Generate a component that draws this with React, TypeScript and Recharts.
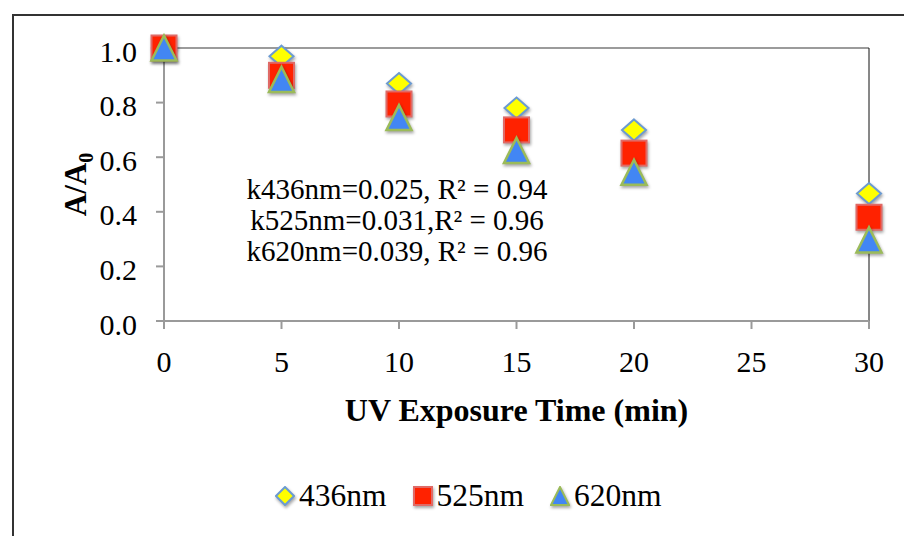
import { ReferenceLine, Scatter, ScatterChart, XAxis, YAxis } from "recharts";

const times = [0, 5, 10, 15, 20, 30];
const ratio436 = [1.0, 0.97, 0.87, 0.78, 0.7, 0.467];
const ratio525 = [1.0, 0.9, 0.795, 0.7, 0.615, 0.38];
const ratio620 = [1.0, 0.885, 0.745, 0.625, 0.545, 0.297];

const xTicks = [0, 5, 10, 15, 20, 25, 30];
const yTicks = [0, 0.2, 0.4, 0.6, 0.8, 1.0];

const fitLines = [
  "k436nm=0.025, R\u00b2 = 0.94",
  "k525nm=0.031,R\u00b2 = 0.96",
  "k620nm=0.039, R\u00b2 = 0.96",
];

const toPoints = (values: number[]) => times.map((t, i) => ({ t, v: values[i] }));

const FONT = '"Liberation Serif", "Times New Roman", serif';
const AXIS_GRAY = "#9a9a9a";
const SHADOW = "drop-shadow(1px 2px 1.5px rgba(0,0,0,0.35))";

const DIAMOND = { fill: "#ffff00", stroke: "#6b9bd2" };
const SQUARE = { fill: "#ff2200", stroke: "#e06a66" };
const TRIANGLE = { fill: "#4286f4", stroke: "#9bbb59" };

function diamondPath(cx: number, cy: number, w: number, h: number) {
  return `M${cx},${cy - h} L${cx + w},${cy} L${cx},${cy + h} L${cx - w},${cy} Z`;
}

function trianglePath(cx: number, cy: number, w: number, h: number) {
  return `M${cx},${cy - h} L${cx + w},${cy + h} L${cx - w},${cy + h} Z`;
}

const DiamondMark = (p: any) => (
  <path d={diamondPath(p.cx, p.cy, 12, 10.5)} fill={DIAMOND.fill} stroke={DIAMOND.stroke} strokeWidth={2} style={{ filter: SHADOW }} />
);

const SquareMark = (p: any) => (
  <rect x={p.cx - 12.5} y={p.cy - 12.5} width={25} height={25} fill={SQUARE.fill} stroke={SQUARE.stroke} strokeWidth={2} style={{ filter: SHADOW }} />
);

const TriangleMark = (p: any) => (
  <path d={trianglePath(p.cx, p.cy, 12.5, 12.5)} fill={TRIANGLE.fill} stroke={TRIANGLE.stroke} strokeWidth={2.5} strokeLinejoin="miter" style={{ filter: SHADOW }} />
);

const legendItems = [
  { name: "436nm", icon: <path d={diamondPath(10, 10, 9, 9)} fill={DIAMOND.fill} stroke={DIAMOND.stroke} strokeWidth={2} /> },
  { name: "525nm", icon: <rect x={1} y={1} width={18} height={18} fill={SQUARE.fill} stroke={SQUARE.stroke} strokeWidth={2} /> },
  { name: "620nm", icon: <path d={trianglePath(10, 10, 9, 9)} fill={TRIANGLE.fill} stroke={TRIANGLE.stroke} strokeWidth={2} /> },
];

const YTitle = ({ viewBox }: any) => {
  const cy = viewBox.y + viewBox.height / 2;
  return (
    <text transform={`translate(86, ${cy}) rotate(-90)`} textAnchor="middle" fontFamily={FONT} fontWeight="bold" fontSize={31} fill="#000">
      A/A
      <tspan fontSize={20} dy={7}>0</tspan>
    </text>
  );
};

const XTitle = ({ viewBox }: any) => (
  <text x={viewBox.x + viewBox.width / 2} y={viewBox.y + 100} textAnchor="middle" fontFamily={FONT} fontWeight="bold" fontSize={32} fill="#000">
    UV Exposure Time (min)
  </text>
);

export default function App() {
  return (
    <div style={{ position: "fixed", left: 0, top: 0, width: 904, height: 536, background: "#fff", overflow: "hidden" }}>
      <ScatterChart width={904} height={536} margin={{ top: 48, right: 35, bottom: 155, left: 64 }}>
        <XAxis
          type="number"
          dataKey="t"
          domain={[0, 30]}
          ticks={xTicks}
          height={60}
          stroke={AXIS_GRAY}
          strokeWidth={2}
          tickSize={8}
          tickMargin={22}
          tick={{ fill: "#000", fontSize: 30, fontFamily: FONT }}
          label={<XTitle />}
        />
        <YAxis
          type="number"
          dataKey="v"
          domain={[0, 1]}
          ticks={yTicks}
          width={100}
          stroke={AXIS_GRAY}
          strokeWidth={2}
          tickSize={8}
          tickMargin={19}
          tickFormatter={(v: number) => v.toFixed(1)}
          tick={{ fill: "#000", fontSize: 30, fontFamily: FONT, dy: 3 }}
          label={<YTitle />}
        />
        <ReferenceLine y={1} stroke="#7a7a7a" strokeWidth={1.5} />
        <ReferenceLine x={30} stroke="#111" strokeWidth={1} />
        <Scatter name="436nm" data={toPoints(ratio436)} shape={DiamondMark} isAnimationActive={false} />
        <Scatter name="525nm" data={toPoints(ratio525)} shape={SquareMark} isAnimationActive={false} />
        <Scatter name="620nm" data={toPoints(ratio620)} shape={TriangleMark} isAnimationActive={false} />
      </ScatterChart>
      <div
        style={{
          position: "absolute",
          left: 230,
          top: 174,
          width: 334,
          textAlign: "center",
          fontFamily: FONT,
          fontSize: 29,
          lineHeight: "31px",
          color: "#000",
          whiteSpace: "nowrap",
        }}
      >
        {fitLines.map((line) => (
          <div key={line}>{line}</div>
        ))}
      </div>
      <div
        style={{
          position: "absolute",
          left: 275,
          top: 478,
          display: "flex",
          alignItems: "center",
          fontFamily: FONT,
          fontSize: 31.5,
          color: "#000",
          whiteSpace: "nowrap",
        }}
      >
        {legendItems.map((item) => (
          <div key={item.name} style={{ display: "flex", alignItems: "center", marginRight: 26 }}>
            <svg width={20} height={20} style={{ marginRight: 4, filter: SHADOW }}>
              {item.icon}
            </svg>
            <span>{item.name}</span>
          </div>
        ))}
      </div>
      <div
        style={{
          position: "absolute",
          left: 12,
          top: 14,
          width: 1000,
          height: 1000,
          border: "2px solid #333",
          pointerEvents: "none",
        }}
      />
    </div>
  );
}
